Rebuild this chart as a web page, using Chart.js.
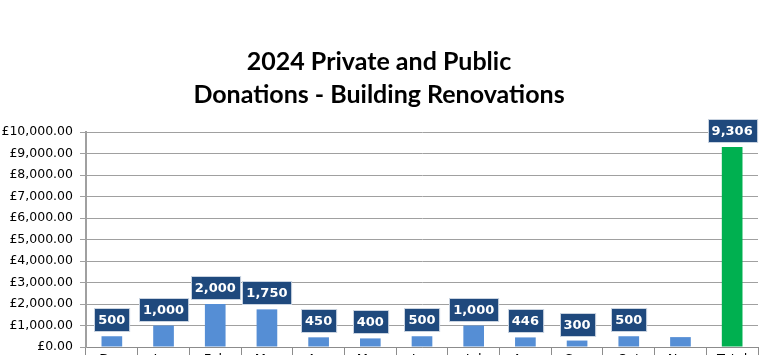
<!DOCTYPE html>
<html>
<head>
<meta charset="utf-8">
<script src="https://cdn.jsdelivr.net/npm/chart.js@4/dist/chart.umd.min.js"></script>
<style>
html,body{margin:0;padding:0;background:#fff;overflow:hidden;width:767px;height:355px;}
#wrap{width:767px;height:378px;position:relative;}
</style>
</head>
<body>
<div id="wrap"><canvas id="c"></canvas></div>
<script>
const categories = ['Dec','Jan','Feb','Mar','Apr','May','Jun','Jul','Aug','Sep','Oct','Nov','Total'];
const donations = [500, 1000, 2000, 1750, 450, 400, 500, 1000, 446, 300, 500, 460, 9306];
const dataLabels = ['500','1,000','2,000','1,750','450','400','500','1,000','446','300','500', null, '9,306'];
const barColors = ['#558ed5','#558ed5','#558ed5','#558ed5','#558ed5','#558ed5','#558ed5','#558ed5','#558ed5','#558ed5','#558ed5','#558ed5','#00b050'];
const titleLines = ['2024 Private and Public', 'Donations - Building Renovations'];

const labelPlugin = {
  id: 'boxLabels',
  afterDatasetsDraw(chart) {
    const ctx = chart.ctx;
    const meta = chart.getDatasetMeta(0);
    ctx.save();
    ctx.font = 'bold 13px "DejaVu Sans"';
    ctx.textAlign = 'center';
    ctx.textBaseline = 'middle';
    meta.data.forEach((bar, i) => {
      const txt = dataLabels[i];
      if (!txt) return;
      const w = ctx.measureText(txt).width + 8;
      const h = 23;
      const x = Math.round(bar.x - w / 2) + 0.5;
      const y = Math.round(bar.y - 5 - h) + 0.5;
      ctx.fillStyle = '#1f497d';
      ctx.fillRect(x, y, w, h);
      ctx.strokeStyle = '#c9d3e0';
      ctx.lineWidth = 1;
      ctx.strokeRect(x, y, w, h);
      ctx.fillStyle = '#ffffff';
      ctx.fillText(txt, bar.x, y + h / 2 + 1);
    });
    ctx.restore();
  }
};

new Chart(document.getElementById('c'), {
  type: 'bar',
  data: {
    labels: categories,
    datasets: [{
      data: donations,
      backgroundColor: barColors,
      barPercentage: 0.4,
      categoryPercentage: 1.0
    }]
  },
  options: {
    responsive: true,
    maintainAspectRatio: false,
    animation: false,
    layout: { padding: { left: 0, right: 9, top: 0, bottom: 0 } },
    plugins: {
      legend: { display: false },
      tooltip: { enabled: false },
      title: {
        display: true,
        text: titleLines,
        color: '#000',
        font: { family: 'Lato', size: 25, weight: 'bold', lineHeight: 1.3 },
        padding: { top: 46, bottom: 21 }
      }
    },
    scales: {
      x: {
        afterFit(scale) { scale.height = 31; },
        grid: { offset: true, drawOnChartArea: false, drawTicks: true, tickLength: 12, color: '#8c8c8c' },
        border: { color: '#8c8c8c', width: 1 },
        ticks: { color: '#000', font: { family: 'DejaVu Sans', size: 13 }, padding: -7 }
      },
      y: {
        min: 0, max: 10000,
        afterFit(scale) { scale.width = 86; },
        ticks: {
          stepSize: 1000,
          color: '#000',
          font: { family: 'DejaVu Sans', size: 12.5 },
          padding: 7,
          callback: v => '£' + Number(v).toLocaleString('en-GB', { minimumFractionDigits: 2, maximumFractionDigits: 2 })
        },
        grid: { color: '#a0a0a0', tickLength: 6, drawTicks: true },
        border: { color: '#a0a0a0', width: 2 }
      }
    }
  },
  plugins: [labelPlugin]
});
</script>
</body>
</html>
